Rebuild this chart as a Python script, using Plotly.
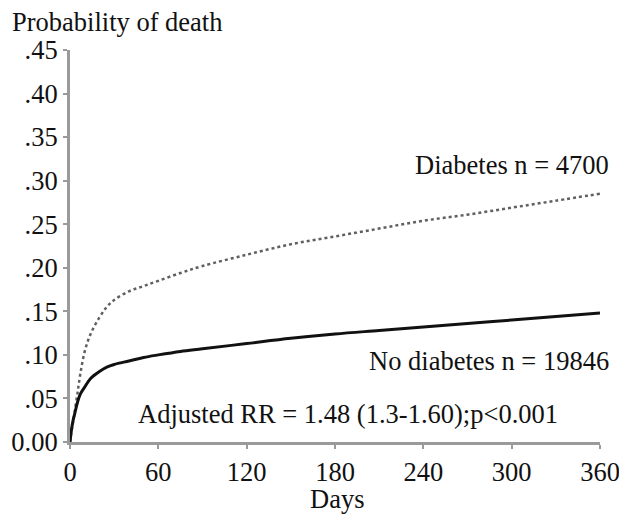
import plotly.graph_objects as go

# Follow-up days and cumulative probability of death
days = [0, 1, 2, 3, 5, 7, 10, 14, 20, 25, 30, 40, 50, 60, 75, 90,
        120, 150, 180, 210, 240, 270, 300, 330, 360]
no_diabetes = [0.000, 0.014, 0.024, 0.031, 0.045, 0.055, 0.063, 0.073, 0.081,
               0.086, 0.089, 0.093, 0.097, 0.100, 0.104, 0.107, 0.113, 0.119,
               0.124, 0.128, 0.132, 0.136, 0.140, 0.144, 0.148]
diabetes = [0.000, 0.012, 0.022, 0.033, 0.055, 0.078, 0.104, 0.124, 0.143,
            0.155, 0.163, 0.173, 0.179, 0.185, 0.194, 0.202, 0.215, 0.227,
            0.236, 0.245, 0.254, 0.261, 0.269, 0.277, 0.285]

x_ticks = [0, 60, 120, 180, 240, 300, 360]
y_ticks = [0.00, 0.05, 0.10, 0.15, 0.20, 0.25, 0.30, 0.35, 0.40, 0.45]
y_tick_labels = ["0.00", ".05", ".10", ".15", ".20", ".25", ".30", ".35", ".40", ".45"]

FONT = "Liberation Serif"
FS = 26.5
TXT = "#111111"
AXIS = "#9a9a9a"

# plot area in pixels: x 70..600, y 50..442
PW, PH = 530, 392


def px(xp):
    return (xp - 70) / PW


def py(yp):
    return (442 - yp) / PH


fig = go.Figure()
fig.add_trace(go.Scatter(
    x=days, y=diabetes, mode="lines", line_shape="spline",
    line=dict(color="#606060", width=2.5, dash="dot"), name="Diabetes"))
fig.add_trace(go.Scatter(
    x=days, y=no_diabetes, mode="lines", line_shape="spline",
    line=dict(color="#111111", width=3), name="No diabetes"))

fig.update_layout(
    width=619, height=515,
    margin=dict(l=70, r=19, t=50, b=73),
    paper_bgcolor="white", plot_bgcolor="white",
    showlegend=False,
    font=dict(family=FONT, size=FS, color=TXT),
    xaxis=dict(
        range=[0, 360], tickvals=x_ticks, ticktext=[str(v) for v in x_ticks],
        showgrid=False, zeroline=False, showline=True, linecolor=AXIS, linewidth=3,
        ticks="outside", ticklen=4, tickwidth=2, tickcolor=AXIS, automargin=False,
        ticklabeloverflow="allow",
        tickfont=dict(family=FONT, size=FS, color=TXT),
    ),
    yaxis=dict(
        range=[0, 0.45], tickvals=y_ticks, ticktext=y_tick_labels,
        showgrid=False, zeroline=False, showline=True, linecolor=AXIS, linewidth=3,
        ticks="outside", ticklen=4, tickwidth=2, tickcolor=AXIS, automargin=False,
        ticklabeloverflow="allow",
        tickfont=dict(family=FONT, size=FS, color=TXT),
    ),
    annotations=[
        dict(text="Probability of death", xref="paper", yref="paper",
             x=px(10), y=py(22), xanchor="left", yanchor="middle",
             showarrow=False, font=dict(family=FONT, size=FS, color=TXT)),
        dict(text="Days", xref="paper", yref="paper",
             x=px(337), y=py(499), xanchor="center", yanchor="middle",
             showarrow=False, font=dict(family=FONT, size=FS, color=TXT)),
        dict(text="Diabetes n = 4700", xref="paper", yref="paper",
             x=px(611), y=py(165), xanchor="right", yanchor="middle",
             showarrow=False, font=dict(family=FONT, size=FS, color=TXT)),
        dict(text="No diabetes n = 19846", xref="paper", yref="paper",
             x=px(611), y=py(361), xanchor="right", yanchor="middle",
             showarrow=False, font=dict(family=FONT, size=FS, color=TXT)),
        dict(text="Adjusted RR = 1.48 (1.3-1.60);p<0.001", xref="x", yref="y",
             x=45, y=0.032, xanchor="left", yanchor="middle",
             showarrow=False, font=dict(family=FONT, size=FS, color=TXT)),
    ],
)

fig.write_html("out.html")
